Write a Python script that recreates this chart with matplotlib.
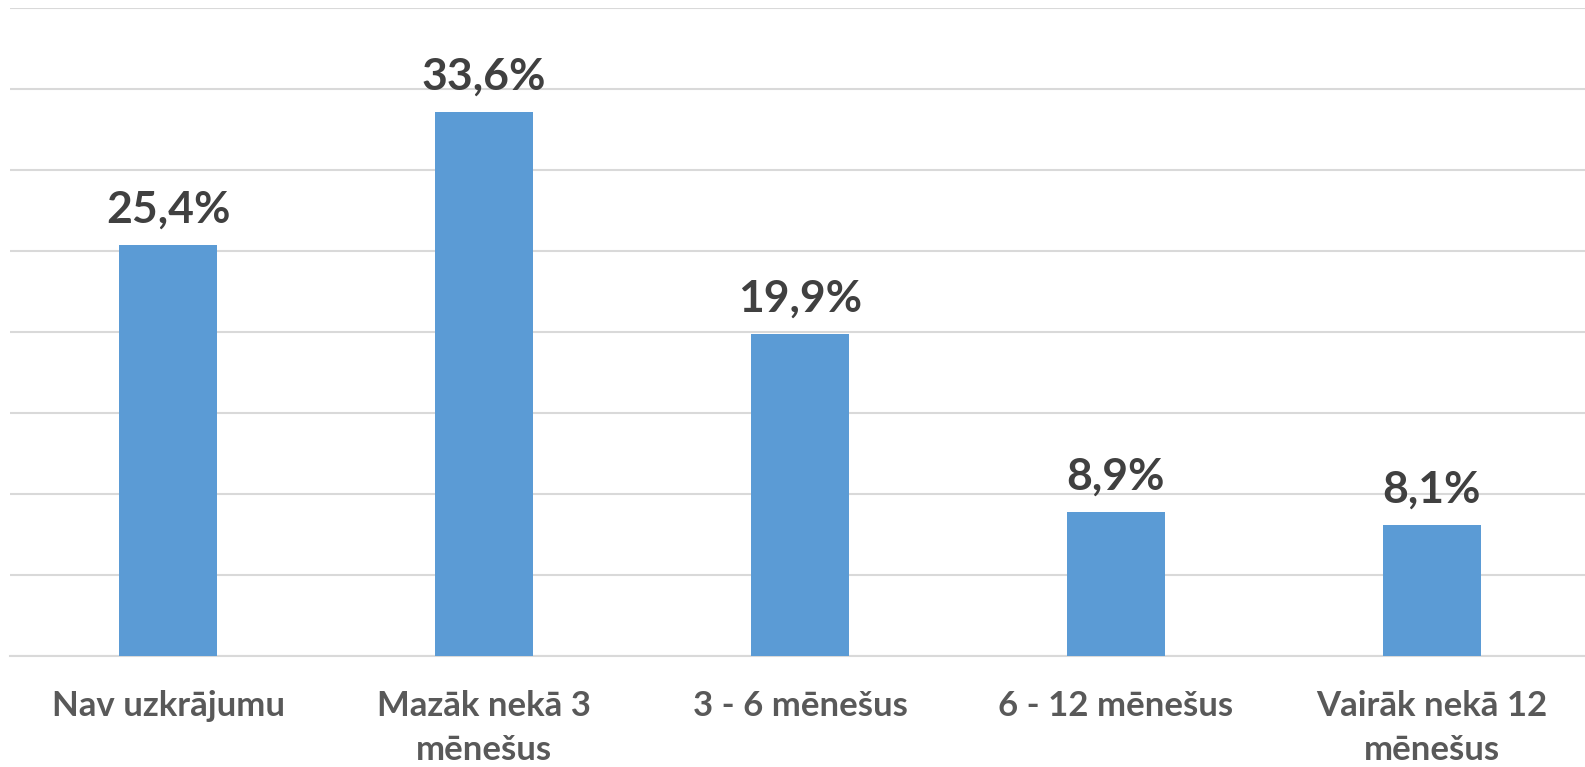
import matplotlib

matplotlib.use("Agg")
import matplotlib.pyplot as plt

categories = ["Nav uzkrājumu", "Mazāk nekā 3\nmēnešus", "3 - 6 mēnešus",
              "6 - 12 mēnešus", "Vairāk nekā 12\nmēnešus"]
values = [25.4, 33.6, 19.9, 8.9, 8.1]

plt.rcParams["font.family"] = ["Lato", "DejaVu Sans"]

W, H = 1585, 767
fig = plt.figure(figsize=(W / 100, H / 100), dpi=100)
ax = fig.add_axes([10 / W, 111 / H, 1580 / W, 648 / H])

x = range(len(categories))
bars = ax.bar(x, values, width=0.31, color="#5b9bd5", zorder=3)

ax.set_xlim(-0.5, len(categories) - 0.5)
ax.set_ylim(0, 40)
ax.set_yticks(range(0, 41, 5))
ax.yaxis.grid(True, color="#d9d9d9", linewidth=1.5, zorder=0)
ax.tick_params(axis="y", left=False, labelleft=False)
ax.tick_params(axis="x", bottom=False, pad=21)
for s in ["top", "right", "left"]:
    ax.spines[s].set_visible(False)
ax.spines["bottom"].set_color("#d9d9d9")
ax.spines["bottom"].set_linewidth(1.5)

ax.set_xticks(list(x))
ax.set_xticklabels(categories, fontsize=25, fontweight="bold", color="#595959",
                   linespacing=1.45, va="top")

for bar, v in zip(bars, values):
    ax.annotate(f"{v:.1f}%".replace(".", ","),
                xy=(bar.get_x() + bar.get_width() / 2, bar.get_height()),
                xytext=(0, 11), textcoords="offset points",
                ha="center", va="bottom", fontsize=32, fontweight="bold",
                color="#404040")

fig.savefig("out.png", dpi=100)
